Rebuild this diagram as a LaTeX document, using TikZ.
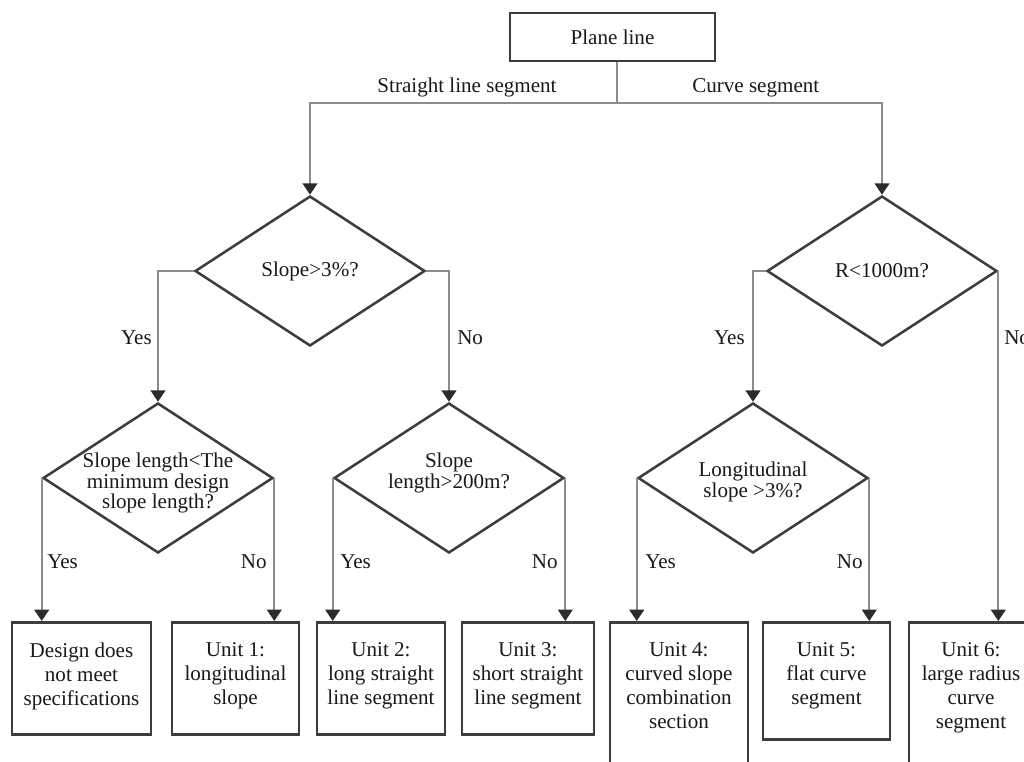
\documentclass[tikz,border=0pt]{standalone}
\usepackage{fontspec}
\setmainfont{Liberation Serif}
\usepackage{tikz}
\usetikzlibrary{shapes.geometric}
\usetikzlibrary{arrows.meta}

\definecolor{framegray}{rgb}{0.24,0.24,0.24}
\definecolor{wiregray}{rgb}{0.55,0.55,0.55}
\definecolor{tipgray}{rgb}{0.17,0.17,0.17}
\definecolor{inkgray}{rgb}{0.1,0.1,0.1}

\tikzset{
  frame/.style={draw=framegray, line width=1.9pt, fill=white, inner sep=0pt},
  unit/.style={frame, rectangle, anchor=north},
  decision/.style={frame, diamond, minimum width=172.5pt, minimum height=112.5pt},
  utext/.style={anchor=north, align=center, inner sep=0pt, text=inkgray, font=\fontsize{15.8pt}{18pt}\selectfont, yshift=-16.2pt},
  qtext/.style={align=center, inner sep=0pt, text=inkgray, font=\fontsize{15.8pt}{15.4pt}\selectfont},
  tag/.style={inner sep=0pt, text=inkgray, font=\fontsize{15.8pt}{18pt}\selectfont},
  wire/.style={draw=wiregray, line width=1.4pt},
  conn/.style={wire, -{Triangle[width=11pt,length=8.5pt,color=tipgray]}}
}

\begin{document}
\begin{tikzpicture}[x=0.75pt,y=-0.75pt]
\useasboundingbox (0,0) rectangle (1024,762);
\clip (0,0) rectangle (1024,762);

% top of the tree
\node[frame, minimum width=153.75pt, minimum height=36pt, tag] (plane) at (612.5,37) {Plane line};
\coordinate (fork) at (617,103);
\node[tag, anchor=base] (straight) at (467,93) {Straight line segment};
\node[tag, anchor=base west] (curve) at (692,93) {Curve segment};

% questions
\node[decision, label={[qtext]center:Slope>3\%?}] (slope) at (310,271) {};
\node[decision, label={[qtext]center:R<1000m?}] (radius) at (882,271) {};
\node[decision, label={[qtext,yshift=-4pt]center:Slope length<The\\minimum design\\slope length?}] (minlen) at (158,478) {};
\node[decision, label={[qtext,yshift=3.75pt]center:Slope\\length>200m?}] (len) at (449,478) {};
\node[decision, label={[qtext,yshift=-3pt]center:Longitudinal\\slope >3\%?}] (grade) at (753,478) {};

% outcomes
\node[unit, minimum width=104.25pt, minimum height=84pt, label={[utext]north:Design does\\not meet\\specifications}] (fail) at (81.5,621) {};
\node[unit, minimum width=95.25pt, minimum height=84pt, label={[utext]north:Unit 1:\\longitudinal\\slope}] (unit1) at (235.5,621) {};
\node[unit, minimum width=96pt, minimum height=84pt, label={[utext]north:Unit 2:\\long straight\\line segment}] (unit2) at (381,621) {};
\node[unit, minimum width=99pt, minimum height=84pt, label={[utext]north:Unit 3:\\short straight\\line segment}] (unit3) at (528,621) {};
\node[unit, minimum width=103.5pt, minimum height=120pt, label={[utext]north:Unit 4:\\curved slope\\combination\\section}] (unit4) at (679,621) {};
\node[unit, minimum width=95.25pt, minimum height=87.75pt, label={[utext]north:Unit 5:\\flat curve\\segment}] (unit5) at (826.5,621) {};
\node[unit, minimum width=93pt, minimum height=120pt, label={[utext]north:Unit 6:\\large radius\\curve\\segment}] (unit6) at (971,621) {};

% connectors
\draw[wire] (fork |- plane.south) -- (fork);
\draw[conn] (fork) -| (slope.north);
\draw[conn] (fork) -| (radius.north);
\draw[conn] (slope.west) -| (minlen.north);
\draw[conn] (slope.east) -| (len.north);
\draw[conn] (radius.west) -| (grade.north);
\draw[conn] (radius.east) -- (radius.east |- unit6.north);
\draw[conn] (minlen.west) -- (minlen.west |- fail.north);
\draw[conn] (minlen.east) -- (minlen.east |- unit1.north);
\draw[conn] (len.west) -- (len.west |- unit2.north);
\draw[conn] (len.east) -- (len.east |- unit3.north);
\draw[conn] (grade.west) -- (grade.west |- unit4.north);
\draw[conn] (grade.east) -- (grade.east |- unit5.north);

% yes / no
\node[tag, anchor=base east] (yes1) at (152,345) {Yes};
\node[tag, anchor=base west] (no1) at (457,345) {No};
\node[tag, anchor=base east] (yes2) at (745,345) {Yes};
\node[tag, anchor=base west] (no2) at (1004,345) {No};
\node[tag, anchor=base west] (yes3) at (47,568) {Yes};
\node[tag, anchor=base east] (no3) at (267,568) {No};
\node[tag, anchor=base west] (yes4) at (340,568) {Yes};
\node[tag, anchor=base east] (no4) at (558,568) {No};
\node[tag, anchor=base west] (yes5) at (645,568) {Yes};
\node[tag, anchor=base east] (no5) at (863,568) {No};
\end{tikzpicture}
\end{document}
